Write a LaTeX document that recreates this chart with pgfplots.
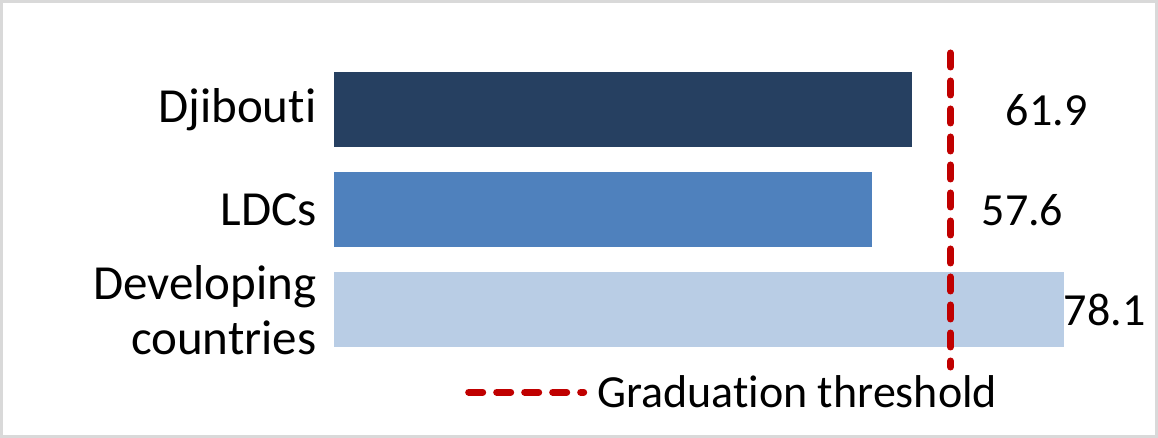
\documentclass[border=0pt]{standalone}
\usepackage{fontspec}
\setmainfont{Carlito}[Ligatures=NoCommon]
\usepackage{pgfplots}
\pgfplotsset{compat=1.18}

\definecolor{navy}{HTML}{264061}
\definecolor{midblue}{HTML}{4F81BD}
\definecolor{paleblue}{HTML}{B9CDE5}
\definecolor{thresh}{HTML}{C00000}
\definecolor{frame}{HTML}{D9D9D9}

\begin{document}
\begin{tikzpicture}
    \useasboundingbox (0,0) rectangle (1158bp,438bp);
    \draw[frame, line width=3bp] (1.5bp,1.5bp) rectangle (1156.5bp,436.5bp);
    \begin{axis}[
        at               = {(334bp,71bp)},
        anchor           = south west,
        scale only axis,
        width            = 766bp,
        height           = 314bp,
        xmin             = 0,
        xmax             = 82,
        ymin             = -1.57,
        ymax             = 1.57,
        axis line style  = {draw=none},
        xtick            = \empty,
        ytick            = {1, 0, -1},
        yticklabels      = {Djibouti, LDCs, {Developing\\countries}},
        yticklabel style = {align=right, font=\fontsize{49bp}{55bp}\selectfont,
                            xshift=-14bp},
        major tick length = 0pt,
        clip             = false,
        legend style     = {draw=none, fill=none, at={(0.171,-0.02)},
                            anchor=north west, inner sep=0pt,
                            font=\fontsize{46bp}{50bp}\selectfont,
                            /tikz/every even column/.append style={column sep=0pt}},
        legend cell align = left,
        legend image code/.code = {
            \draw[thresh, line width=7bp, line cap=round,
                  dash pattern=on 14bp off 14bp]
                (0bp,0bp) -- (115bp,0bp);
        }]

        \addplot[xbar, bar width=75bp, draw=none, fill=navy, forget plot]
            coordinates {(61.9,1)};
        \addplot[xbar, bar width=75bp, draw=none, fill=midblue, forget plot]
            coordinates {(57.6,0)};
        \addplot[xbar, bar width=75bp, draw=none, fill=paleblue, forget plot]
            coordinates {(78.1,-1)};

        \addplot[thresh, line width=7bp, line cap=round,
                 dash pattern=on 14bp off 14bp]
            coordinates {(66,1.57) (66,-1.57)};
        \addlegendentry{\hspace{8bp}Graduation threshold}

        \node[font=\fontsize{46bp}{50bp}\selectfont] at (axis cs:76.3,1) {61.9};
        \node[font=\fontsize{46bp}{50bp}\selectfont] at (axis cs:73.7,0) {57.6};
        \node[font=\fontsize{46bp}{50bp}\selectfont, anchor=west, inner sep=0pt]
            at (axis cs:78.1,-1) {78.1};
    \end{axis}
\end{tikzpicture}
\end{document}
